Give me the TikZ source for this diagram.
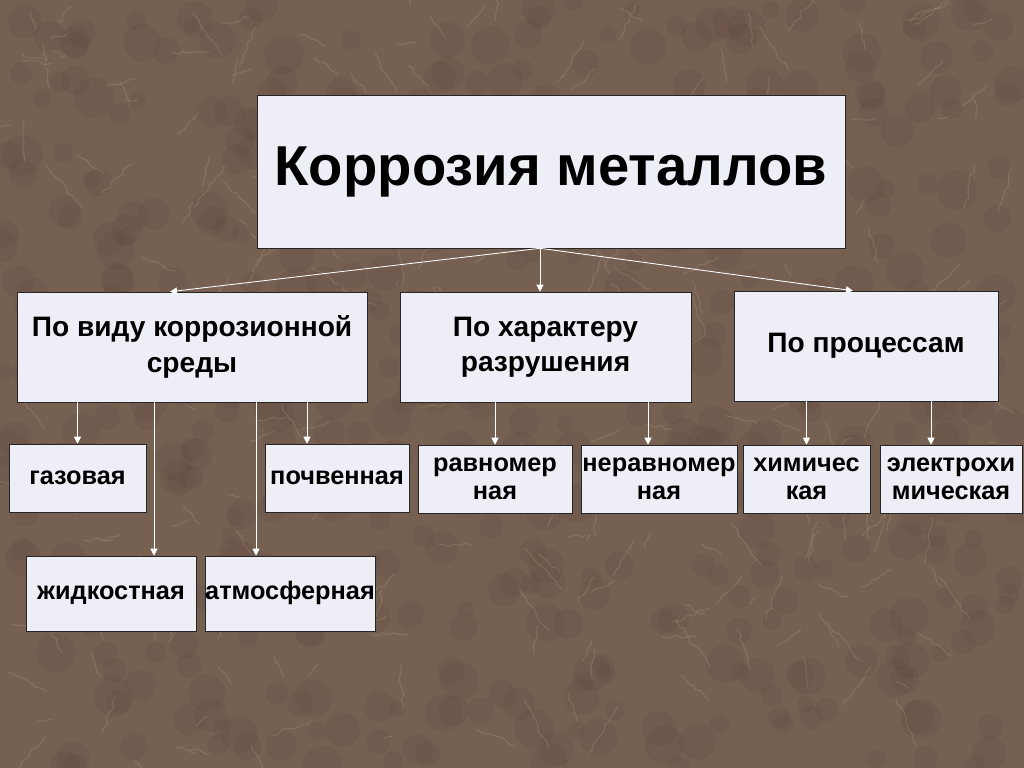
\documentclass[tikz,border=0pt]{standalone}
\usepackage{fontspec}
\setmainfont{Liberation Sans}
\usetikzlibrary{arrows.meta,positioning,calc,decorations.pathmorphing}
\definecolor{marble}{RGB}{117,96,82}
\definecolor{vein}{RGB}{196,170,146}
\definecolor{darkspot}{RGB}{86,66,56}
\definecolor{boxfill}{RGB}{238,238,246}
\newcommand{\px}[1]{#1*0.025cm}
\tikzset{
  box/.style={draw=black!85, fill=boxfill, inner sep=0pt, align=center,
    font=\bfseries\fontsize{18}{20}\selectfont},
  arr/.style={draw=white, line width=0.6pt, -{Triangle[width=5pt,length=5pt]}},
}
\begin{document}
\begin{tikzpicture}[x=0.025cm, y=-0.025cm]
\useasboundingbox (0,0) rectangle (1024,768);
% marble background
\fill[marble] (0,0) rectangle (1024,768);
\begin{scope}
  \clip (0,0) rectangle (1024,768);
  \pgfmathsetseed{4242}
  \foreach \i in {1,...,500}
    \fill[darkspot, opacity=0.14] ({512+512*rand},{384+384*rand}) circle [radius={\px{10+6*rand}}];
  \foreach \i in {1,...,260}
    \draw[vein, opacity=0.22, line width=0.8pt, decorate,
      decoration={random steps, segment length=4pt, amplitude=1.5pt}]
      ({512+512*rand},{384+384*rand}) -- ++({40*rand},{50*rand});
\end{scope}

% title
\node[box, minimum width=\px{588}, minimum height=\px{153},
  font=\bfseries\fontsize{40}{44}\selectfont] (title) at (551,171.5) {Коррозия металлов};

% first level
\node[box, minimum width=\px{350}, minimum height=\px{110},
  font=\bfseries\fontsize{20}{25}\selectfont] (sreda) at (192,347) {По виду коррозионной\\среды};
\node[box, minimum width=\px{291}, minimum height=\px{110},
  font=\bfseries\fontsize{20}{25}\selectfont] (razr) at (545.5,347) {По характеру\\разрушения};
\node[box, minimum width=\px{264}, minimum height=\px{110},
  font=\bfseries\fontsize{20}{25}\selectfont] (proc) at (866,346) {По процессам};

% second level
\node[box, minimum width=\px{137}, minimum height=\px{68}] (gaz) at (77.5,478) {газовая};
\node[box, minimum width=\px{144}, minimum height=\px{68}] (pochv) at (337,478) {почвенная};
\node[box, minimum width=\px{154}, minimum height=\px{68}] (ravn) at (495,479) {равномер\\ная};
\node[box, minimum width=\px{156}, minimum height=\px{68}] (nerav) at (659,479) {неравномер\\ная};
\node[box, minimum width=\px{127}, minimum height=\px{68}] (him) at (806.5,479) {химичес\\кая};
\node[box, minimum width=\px{142}, minimum height=\px{68}] (elhim) at (951,479) {электрохи\\мическая};

% third level
\node[box, minimum width=\px{170}, minimum height=\px{75}] (zhid) at (111,593.5) {\strut жидкостная};
\node[box, minimum width=\px{170}, minimum height=\px{75}] (atm) at (290,593.5) {\strut атмосферная};

% arrows from the title
\coordinate (hub) at ([xshift=\px{-11}]title.south);
\draw[arr] (hub) -- ([xshift=\px{-22}]sreda.north);
\draw[arr] (hub) -- (hub |- razr.north);
\draw[arr] (hub) -- ([xshift=\px{-13}]proc.north);

% arrows to the kinds
\coordinate (zhidin) at ([xshift=\px{43}]zhid.north);
\coordinate (atmin) at ([xshift=\px{-34}]atm.north);
\coordinate (pochvin) at ([xshift=\px{-30}]pochv.north);
\coordinate (neravin) at ([xshift=\px{-11}]nerav.north);
\coordinate (elhimin) at ([xshift=\px{-20}]elhim.north);
\draw[arr] (gaz.north |- sreda.south) -- (gaz.north);
\draw[arr] (zhidin |- sreda.south) -- (zhidin);
\draw[arr] (atmin |- sreda.south) -- (atmin);
\draw[arr] (pochvin |- sreda.south) -- (pochvin);
\draw[arr] (ravn.north |- razr.south) -- (ravn.north);
\draw[arr] (neravin |- razr.south) -- (neravin);
\draw[arr] (him.north |- proc.south) -- (him.north);
\draw[arr] (elhimin |- proc.south) -- (elhimin);
\end{tikzpicture}
\end{document}
